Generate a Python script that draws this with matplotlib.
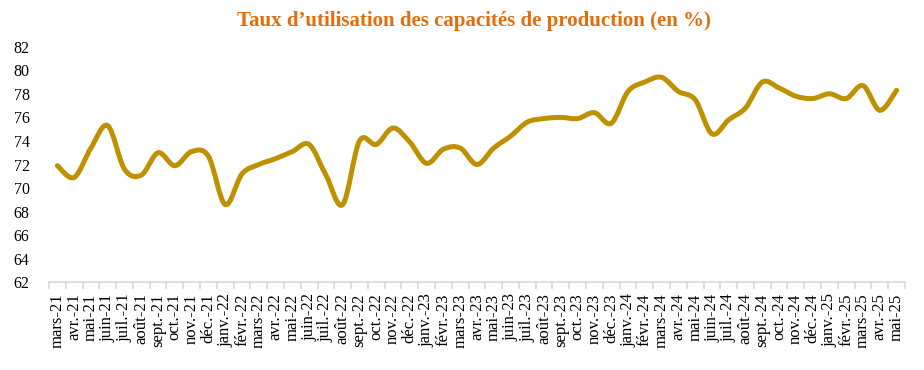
import numpy as np
import matplotlib.pyplot as plt
from matplotlib.path import Path
from matplotlib.patches import PathPatch

# Libellés des mois et valeurs
mois = ['mars-21', 'avr.-21', 'mai-21', 'juin-21', 'juil.-21', 'août-21', 'sept.-21', 'oct.-21',
        'nov.-21', 'déc.-21', 'janv.-22', 'févr.-22', 'mars-22', 'avr.-22', 'mai-22', 'juin-22',
        'juil.-22', 'août-22', 'sept.-22', 'oct.-22', 'nov.-22', 'déc.-22', 'janv.-23', 'févr.-23',
        'mars-23', 'avr.-23', 'mai-23', 'juin-23', 'juil.-23', 'août-23', 'sept.-23', 'oct.-23',
        'nov.-23', 'déc.-23', 'janv.-24', 'févr.-24', 'mars-24', 'avr.-24', 'mai-24', 'juin-24',
        'juil.-24', 'août-24', 'sept.-24', 'oct.-24', 'nov.-24', 'déc.-24', 'janv.-25', 'févr.-25',
        'mars-25', 'avr.-25', 'mai-25']
taux = [71.9, 70.9, 73.4, 75.3, 71.6, 71.1, 73.0, 71.9,
        73.1, 72.7, 68.6, 71.2, 72.0, 72.5, 73.1, 73.7,
        71.1, 68.6, 74.0, 73.7, 75.1, 73.9, 72.1, 73.3,
        73.4, 72.0, 73.4, 74.4, 75.6, 75.9, 76.0, 75.9,
        76.4, 75.5, 78.2, 79.0, 79.4, 78.2, 77.5, 74.6,
        75.8, 76.8, 79.0, 78.5, 77.8, 77.6, 78.0, 77.6,
        78.7, 76.6, 78.3]

x = np.arange(len(taux))
y = np.array(taux)

fig = plt.figure(figsize=(9.24, 3.70), dpi=100)
ax = fig.add_axes([0.053, 0.237, 0.9264, 0.6368])

# courbe lissée (bezier façon Excel)
verts = [(x[0], y[0])]
codes = [Path.MOVETO]
n = len(x)
for i in range(n - 1):
    p0 = np.array([x[max(i - 1, 0)], y[max(i - 1, 0)]])
    p1 = np.array([x[i], y[i]])
    p2 = np.array([x[i + 1], y[i + 1]])
    p3 = np.array([x[min(i + 2, n - 1)], y[min(i + 2, n - 1)]])
    c1 = p1 + (p2 - p0) / 6
    c2 = p2 - (p3 - p1) / 6
    verts += [tuple(c1), tuple(c2), tuple(p2)]
    codes += [Path.CURVE4] * 3
ax.add_patch(PathPatch(Path(verts, codes), fill=False, edgecolor='#BF9000',
                       lw=3.6, capstyle='round', joinstyle='round'))

ax.set_xlim(-0.5, len(x) - 0.5)
ax.set_ylim(62, 82)
ax.set_yticks(np.arange(62, 83, 2))
ax.set_xticks(x)
ax.set_xticklabels(mois, rotation=90, fontsize=12, family='Liberation Serif')
ax.set_xticks(np.arange(-0.5, len(x), 1), minor=True)
for lab in ax.get_yticklabels():
    lab.set_family('Liberation Serif')
    lab.set_fontsize(11.5)

for s in ['top', 'right', 'left']:
    ax.spines[s].set_visible(False)
ax.spines['bottom'].set_color('#D9D9D9')
ax.spines['bottom'].set_linewidth(1.2)
ax.tick_params(axis='y', length=0, pad=14)
ax.tick_params(axis='x', which='major', length=0, pad=8)
ax.tick_params(axis='x', which='minor', length=5, color='#D9D9D9', width=1.2)

fig.text(0.513, 0.943, "Taux d\u2019utilisation des capacités de production (en %)",
         ha='center', va='center', fontsize=15, fontweight='bold',
         color='#E46C0A', family='Liberation Serif')

plt.savefig('out.png', dpi=100)
